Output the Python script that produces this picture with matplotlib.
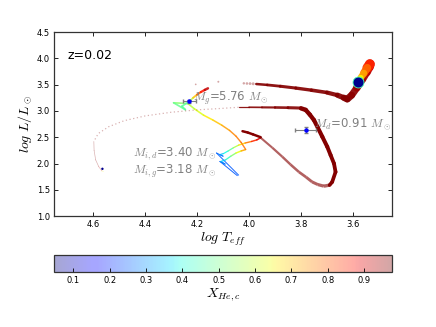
import numpy as np
import matplotlib
matplotlib.use('Agg')
import matplotlib.pyplot as plt
from matplotlib.collections import LineCollection
from matplotlib.colors import Normalize

plt.rcParams['mathtext.fontset'] = 'cm'
plt.rcParams['font.family'] = ['DejaVu Sans']

# colour scale of the central helium fraction
X_MIN, X_MAX = 0.047, 0.977
cbar_ticks = [0.1, 0.2, 0.3, 0.4, 0.5, 0.6, 0.7, 0.8, 0.9]

# donor main sequence
d_ms_T = [4.040, 4.125, 4.100, 4.112, 4.098, 4.080, 4.060, 4.040, 4.015, 3.990, 3.970, 3.955]
d_ms_L = [1.780, 2.200, 2.140, 2.170, 2.190, 2.240, 2.300, 2.350, 2.390, 2.420, 2.450, 2.490]
d_ms_X = [0.24, 0.25, 0.27, 0.30, 0.36, 0.43, 0.52, 0.62, 0.72, 0.82, 0.88, 0.92]

# gainer main sequence
g_ms_T = [4.045, 4.112, 4.092, 4.108, 4.090, 4.070, 4.050, 4.030, 4.013]
g_ms_L = [1.770, 2.040, 1.990, 2.040, 2.070, 2.140, 2.200, 2.240, 2.265]
g_ms_X = [0.24, 0.25, 0.27, 0.31, 0.38, 0.48, 0.58, 0.68, 0.77]

# gainer accretion phase (rejuvenation) and green loop
g_acc_T = [4.013, 4.030, 4.050, 4.075, 4.105, 4.140, 4.175, 4.210, 4.235,
           4.290, 4.245, 4.258, 4.230]
g_acc_L = [2.270, 2.400, 2.520, 2.630, 2.730, 2.830, 2.920, 3.040, 3.140,
           3.155, 3.025, 3.090, 3.180]
g_acc_X = [0.78, 0.78, 0.77, 0.75, 0.72, 0.68, 0.64, 0.60, 0.56,
           0.50, 0.48, 0.47, 0.48]

# gainer end of main sequence
g_tams_T = [4.230, 4.215, 4.200, 4.185, 4.170, 4.158]
g_tams_L = [3.180, 3.250, 3.310, 3.360, 3.400, 3.430]
g_tams_X = [0.50, 0.64, 0.76, 0.85, 0.90, 0.94]

# gainer hertzsprung gap (sparse models)
g_hg_T = [4.205, 4.118, 4.020, 4.008, 3.996, 3.984]
g_hg_L = [3.505, 3.555, 3.525, 3.522, 3.520, 3.516]
g_hg_X = [0.97, 0.97, 0.97, 0.97, 0.97, 0.97]

# gainer giant branch and core helium burning
g_gb_T = [3.972, 3.930, 3.880, 3.820, 3.760, 3.700, 3.660, 3.635, 3.622,
          3.605, 3.585, 3.565, 3.548, 3.538, 3.535,
          3.545, 3.558, 3.570, 3.578]
g_gb_L = [3.512, 3.495, 3.470, 3.435, 3.395, 3.350, 3.300, 3.250, 3.225,
          3.300, 3.440, 3.600, 3.740, 3.840, 3.890,
          3.820, 3.720, 3.630, 3.570]
g_gb_X = [0.97, 0.97, 0.97, 0.97, 0.97, 0.97, 0.97, 0.97, 0.97,
          0.97, 0.96, 0.95, 0.94, 0.92, 0.89,
          0.82, 0.76, 0.70, 0.60]
g_gb_lw = [1.8, 2.0, 2.2, 2.4, 2.6, 3.0, 3.8, 4.6, 5.0,
           5.0, 5.4, 5.8, 6.4, 7.0, 7.0,
           5.6, 4.8, 4.2]
# last core helium burning models of the gainer
g_end_T = [3.581]
g_end_L = [3.545]
g_end_X = [0.06]

# donor after main sequence
d_hook_T = [4.025, 4.005, 3.985, 3.955]
d_hook_L = [2.615, 2.590, 2.555, 2.500]
d_hook_X = [0.97, 0.97, 0.97, 0.97]

# donor mass transfer and red giant branch
d_rg_T = [3.955, 3.910, 3.872, 3.840, 3.808, 3.780, 3.757, 3.735, 3.712,
          3.690, 3.680, 3.667, 3.673, 3.686, 3.699, 3.718, 3.735,
          3.750, 3.766, 3.782, 3.800]
d_rg_L = [2.490, 2.300, 2.130, 1.980, 1.840, 1.740, 1.650, 1.600, 1.570,
          1.590, 1.650, 1.840, 2.000, 2.160, 2.320, 2.510, 2.680,
          2.826, 2.930, 3.020, 3.050]
d_rg_X = [0.97] * 21

# donor stripped: moving to the blue
d_st_T = [3.800, 3.850, 3.900, 3.950, 4.000, 4.040]
d_st_L = [3.055, 3.062, 3.066, 3.068, 3.070, 3.070]
d_st_X = [0.97] * 6

d_hot_T = [4.040, 4.100, 4.200, 4.300, 4.400, 4.480, 4.540, 4.580, 4.597]
d_hot_L = [3.070, 3.050, 3.020, 2.975, 2.905, 2.815, 2.700, 2.570, 2.420]
d_hot_X = [0.97] * 9

d_he_T = [4.597, 4.596, 4.590, 4.578, 4.566, 4.560]
d_he_L = [2.420, 2.250, 2.070, 1.940, 1.860, 1.850]
d_he_X = [0.97, 0.97, 0.97, 0.96, 0.90, 0.40]
d_end_T = [4.564]
d_end_L = [1.900]
d_end_X = [0.06]

# observed components
obs_T = [4.230, 3.782]
obs_L = [3.180, 2.636]
obs_Terr = [0.025, 0.040]
obs_Lerr = [0.020, 0.060]

labels = [r'$M_g$=5.76 $M_\odot$', r'$M_d$=0.91 $M_\odot$',
          r'$M_{i,d}$=3.40 $M_\odot$', r'$M_{i,g}$=3.18 $M_\odot$']
label_T = [4.215, 3.750, 4.445, 4.445]
label_L = [3.240, 2.750, 2.180, 1.875]

cmap = plt.get_cmap('jet')
norm = Normalize(X_MIN, X_MAX)


def draw_track(ax, T, L, X, lw, alpha, cap='round'):
    pts = np.column_stack([T, L])
    segs = np.stack([pts[:-1], pts[1:]], axis=1)
    xm = 0.5 * (np.asarray(X[:-1]) + np.asarray(X[1:]))
    cols = cmap(norm(xm))
    cols[:, 3] = alpha
    if len(lw) == 2:
        lws = np.linspace(lw[0], lw[1], len(segs))
    else:
        lws = lw
    lc = LineCollection(segs, colors=cols, linewidths=lws, capstyle=cap,
                        joinstyle='round', zorder=2)
    ax.add_collection(lc)


fig = plt.figure(figsize=(4.36, 3.27), dpi=100)
ax = fig.add_axes([0.124, 0.339, 0.775, 0.563])

draw_track(ax, d_ms_T, d_ms_L, d_ms_X, (0.7, 1.1), 0.9)
draw_track(ax, g_ms_T, g_ms_L, g_ms_X, (0.7, 1.1), 0.9)
draw_track(ax, g_acc_T, g_acc_L, g_acc_X, (1.0, 1.3), 0.85)
draw_track(ax, g_tams_T, g_tams_L, g_tams_X, (1.2, 1.8), 0.85)
ax.scatter(g_hg_T, g_hg_L, c=g_hg_X, cmap=cmap, norm=norm,
           s=[1.5, 2, 3, 3.5, 4, 4.5], alpha=0.35, edgecolors='none', zorder=2)
draw_track(ax, g_gb_T, g_gb_L, g_gb_X, g_gb_lw, 0.92)
ax.scatter(g_end_T, g_end_L, c=g_end_X, cmap=cmap, norm=norm, s=62,
           edgecolors=cmap(norm(0.45)), linewidths=0.6, zorder=4)

draw_track(ax, d_hook_T, d_hook_L, d_hook_X, (1.8, 1.8), 1.0)
draw_track(ax, d_rg_T[:10], d_rg_L[:10], d_rg_X[:10], (1.5, 2.4), 0.62,
           cap='butt')
draw_track(ax, d_rg_T[9:], d_rg_L[9:], d_rg_X[9:], (2.6, 3.2), 1.0)
draw_track(ax, d_st_T, d_st_L, d_st_X, (2.2, 0.9), 0.9)
ax.plot(d_hot_T, d_hot_L, color=cmap(norm(0.97)), alpha=0.3, lw=0.9,
        ls=(0, (1, 2)), zorder=2)
draw_track(ax, d_he_T, d_he_L, d_he_X, (0.5, 0.5), 0.3)
ax.scatter(d_end_T, d_end_L, c=d_end_X, cmap=cmap, norm=norm, s=3,
           edgecolors='none', zorder=3)

ax.errorbar(obs_T, obs_L, xerr=obs_Terr, yerr=obs_Lerr, fmt='o', ms=2.2,
            color='blue', mec='blue', ecolor='gray', elinewidth=0.8,
            capsize=1.5, zorder=5)

for txt, t, l in zip(labels, label_T, label_L):
    ax.text(t, l, txt, color='gray', fontsize=8.5, ha='left', va='center',
            zorder=6)

ax.text(0.04, 0.875, 'z=0.02', transform=ax.transAxes, fontsize=9,
        va='center', ha='left')

ax.set_xlim(4.75, 3.45)
ax.set_ylim(1.0, 4.5)
ax.set_xticks([4.6, 4.4, 4.2, 4.0, 3.8, 3.6])
ax.set_yticks([1.0, 1.5, 2.0, 2.5, 3.0, 3.5, 4.0, 4.5])
ax.tick_params(direction='in', top=True, right=True, labelsize=6,
               length=3, width=0.6, pad=3)
for sp in ax.spines.values():
    sp.set_color('#333333')
    sp.set_linewidth(0.9)
ax.set_xlabel(r'$log\ T_{eff}$', fontsize=10, labelpad=1)
ax.set_ylabel(r'$log\ L/L_\odot$', fontsize=10, labelpad=2)

cax = fig.add_axes([0.124, 0.168, 0.775, 0.052])
sm = plt.cm.ScalarMappable(norm=norm, cmap=cmap)
cb = fig.colorbar(sm, cax=cax, orientation='horizontal', alpha=0.35,
                  ticks=cbar_ticks)
cb.ax.tick_params(direction='in', labelsize=6, length=3, width=0.6, pad=3)
cb.outline.set_edgecolor('#333333')
cb.outline.set_linewidth(0.9)
cb.set_label(r'$X_{He,c}$', fontsize=10, labelpad=1)

fig.savefig('out.png', dpi=100)
